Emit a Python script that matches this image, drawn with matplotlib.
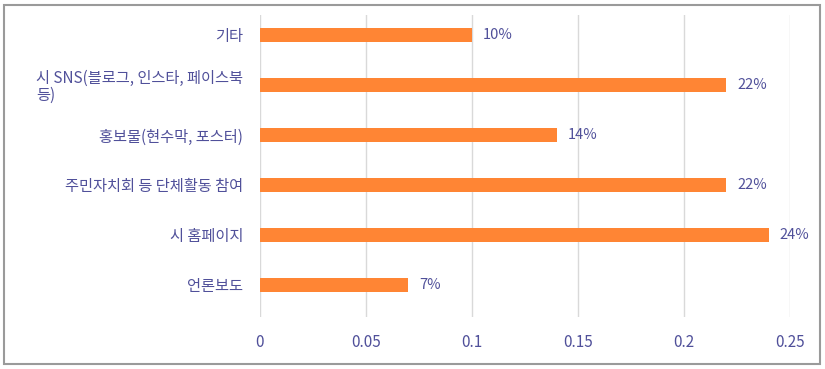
import matplotlib
matplotlib.use('Agg')
import matplotlib.pyplot as plt
from matplotlib.patches import Rectangle

plt.rcParams['font.family'] = ['Noto Sans CJK KR', 'DejaVu Sans']

# categories from bottom to top
categories = ['언론보도', '시 홈페이지', '주민자치회 등 단체활동 참여',
              '홍보물(현수막, 포스터)', '시 SNS(블로그, 인스타, 페이스북\n등)', '기타']
values = [0.07, 0.24, 0.22, 0.14, 0.22, 0.10]
value_labels = ['7%', '24%', '22%', '14%', '22%', '10%']
xticks = [0, 0.05, 0.1, 0.15, 0.2, 0.25]
xtick_labels = ['0', '0.05', '0.1', '0.15', '0.2', '0.25']

text_color = '#50509a'
bar_color = '#FF8534'

fig = plt.figure(figsize=(8.25, 3.69), dpi=100)
ax = fig.add_axes([260 / 825, 52 / 369, 530 / 825, 302 / 369])

ypos = list(range(len(categories)))
ax.barh(ypos, values, height=0.28, color=bar_color, zorder=3)

for y, v, lab in zip(ypos, values, value_labels):
    ax.text(v + 0.005, y, lab, va='center', ha='left', fontsize=10.5,
            color=text_color, clip_on=False)

ax.set_xlim(0, 0.25)
ax.set_ylim(-0.64, 5.4)
ax.set_xticks(xticks)
ax.set_xticklabels(xtick_labels)
ax.set_yticks(ypos)
ax.set_yticklabels(categories, multialignment='left', linespacing=1.0)

ax.tick_params(axis='x', length=0, pad=12, labelsize=11, labelcolor=text_color)
ax.tick_params(axis='y', length=0, pad=12, labelsize=11, labelcolor=text_color)

ax.grid(axis='x', color='#d9d9d9', linewidth=1, zorder=0)
for s in ax.spines.values():
    s.set_visible(False)

# outer frame
fig.patches.append(Rectangle((4 / 825, 5 / 369), 816 / 825, 359 / 369,
                             transform=fig.transFigure, fill=False,
                             edgecolor='#9a9a9a', linewidth=1.5))

fig.savefig('out.png', dpi=100)
